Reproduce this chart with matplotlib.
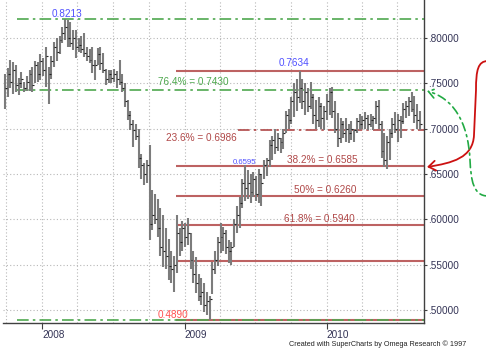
import matplotlib
matplotlib.use("Agg")
import matplotlib.pyplot as plt
import matplotlib.dates as mdates
from matplotlib.path import Path
from matplotlib.patches import FancyArrowPatch
import numpy as np
import pandas as pd

plt.rcParams['font.family'] = ['Liberation Sans', 'DejaVu Sans']

# ---------------- data (weekly NZD/USD bars) ----------------
start_date = "2007-09-28"
highs = [.760, .767, .776, .774, .770, .756, .762, .752, .758, .765,
         .768, .775, .773, .782, .778, .790, .768, .780, .796, .800,
         .802, .812, .8213, .820, .818, .809, .809, .800, .802, .805,
         .790, .788, .790, .776, .789, .790, .784, .766, .765, .765,
         .766, .764, .776, .760, .750, .732, .720, .710, .705, .700,
         .672, .662, .665, .682, .632, .628, .622, .612, .605, .590,
         .578, .565, .560, .605, .590, .598, .596, .601, .585, .565,
         .558, .540, .535, .530, .520, .515, .553, .565, .580, .596,
         .592, .588, .577, .575, .600, .615, .625, .645, .6595, .654,
         .650, .652, .648, .655, .650, .665, .668, .688, .692, .700,
         .695, .690, .700, .720, .722, .735, .750, .755, .7634, .755,
         .750, .745, .752, .738, .732, .735, .728, .725, .738, .745,
         .746, .730, .717, .712, .708, .712, .705, .708, .700, .712,
         .716, .714, .718, .715, .716, .714, .730, .732, .708, .695,
         .692, .700, .712, .718, .716, .714, .728, .730, .735, .740,
         .736, .727, .720]
lows = [.722, .735, .745, .738, .740, .737, .745, .740, .742, .741,
        .740, .750, .752, .754, .758, .746, .727, .755, .768, .775,
        .782, .795, .798, .790, .790, .787, .778, .785, .784, .779,
        .775, .772, .761, .754, .770, .765, .761, .748, .750, .750,
        .752, .745, .748, .740, .724, .710, .699, .680, .688, .657,
        .645, .638, .640, .577, .588, .595, .580, .560, .547, .545,
        .533, .530, .520, .541, .560, .565, .570, .572, .545, .530,
        .519, .510, .505, .498, .495, .489, .518, .540, .548, .563,
        .565, .562, .552, .550, .570, .585, .590, .612, .620, .622,
        .618, .625, .620, .618, .615, .645, .648, .658, .665, .672,
        .675, .673, .678, .695, .700, .705, .713, .720, .728, .722,
        .715, .718, .722, .705, .700, .702, .700, .698, .710, .715,
        .712, .695, .680, .684, .690, .685, .684, .688, .685, .695,
        .698, .700, .700, .698, .702, .698, .705, .700, .668, .658,
        .656, .665, .690, .695, .685, .690, .705, .712, .714, .718,
        .706, .700, .698]
closes = [.745, .760, .752, .765, .748, .750, .755, .745, .752, .760,
          .748, .770, .760, .775, .765, .780, .760, .775, .790, .785,
          .798, .805, .812, .800, .795, .800, .790, .792, .788, .784,
          .780, .776, .770, .770, .782, .772, .765, .755, .760, .756,
          .760, .755, .752, .745, .730, .715, .705, .698, .692, .668,
          .660, .650, .660, .595, .605, .600, .590, .570, .565, .560,
          .548, .545, .550, .585, .575, .590, .580, .585, .555, .540,
          .530, .515, .520, .505, .510, .512, .545, .555, .575, .580,
          .585, .570, .565, .570, .595, .605, .618, .640, .635, .640,
          .630, .645, .628, .650, .640, .660, .665, .682, .688, .680,
          .690, .685, .695, .715, .710, .730, .740, .735, .745, .730,
          .740, .725, .735, .715, .710, .725, .712, .720, .730, .740,
          .720, .700, .690, .705, .695, .700, .695, .700, .698, .708,
          .705, .710, .712, .705, .710, .712, .725, .705, .675, .665,
          .685, .695, .705, .700, .710, .708, .722, .725, .730, .722,
          .715, .710, .705]

green_levels = [0.8213, 0.7430, 0.4890]
brown_levels = [0.7634, 0.6585, 0.6260, 0.5940, 0.5538, 0.4890]
brown_dashdot_level = 0.6986
year_labels = ["2008", "2009", "2010"]
y_ticks = [0.50, 0.55, 0.60, 0.65, 0.70, 0.75, 0.80]

dates = pd.date_range(start_date, periods=len(highs), freq="7D")

# ---------------- figure ----------------
W, H = 486, 354
fig = plt.figure(figsize=(W / 100, H / 100), dpi=100)
ax = fig.add_axes([3 / W, 31 / H, 421 / W, 323 / H])

x0 = pd.Timestamp("2007-09-23")
x1 = pd.Timestamp("2010-09-07")
ax.set_xlim(x0, x1)
ymin, ymax = 0.48567, 0.84191
ax.set_ylim(ymin, ymax)

px_per_day = 421 / (x1 - x0).days
def px2date(px):
    return x0 + pd.Timedelta(days=(px - 3) / px_per_day)

# grid
qdates = pd.date_range("2007-10-01", "2010-07-01", freq="QS")
for d in qdates:
    ax.axvline(d, color="#b8b8b8", lw=0.8, ls=(0, (1, 2)), zorder=0)
for v in y_ticks:
    ax.axhline(v, color="#b8b8b8", lw=0.8, ls=(0, (1, 2)), zorder=0)

# levels
green = "#4fa84f"
brown = "#bd6262"
dashdot = (0, (7, 2.5, 1.5, 2.5))
gx0 = px2date(17)
bx0 = px2date(176)
for lv in brown_levels:
    ax.hlines(lv, bx0, x1, color=brown, lw=1.5, zorder=1)
ax.hlines(brown_dashdot_level, px2date(238), x1, color="#b04848", lw=1.2,
          ls=dashdot, zorder=1)
for lv in green_levels:
    ax.hlines(lv, gx0, x1, color=green, lw=1.2, ls=dashdot, zorder=1.5)

# bars
ax.vlines(dates, lows, highs, color="#7c7c7c", lw=1.5, zorder=2)
ax.hlines(closes, dates, dates + pd.Timedelta(days=5), color="#222222",
          lw=0.8, zorder=2.5)

# labels
fs = 7.2
def ytxt(pxy):
    return 0.80 - (pxy - 38) / 906.7

ax.text(px2date(67), ytxt(17), "0.8213", color="#5050ff", fontsize=fs,
        ha="center", va="baseline")
ax.text(px2date(294), ytxt(66), "0.7634", color="#5050ff", fontsize=fs,
        ha="center", va="baseline")
ax.text(px2date(158), ytxt(85.5), "76.4% = 0.7430", color=green, fontsize=fs,
        ha="left", va="baseline")
ax.text(px2date(166), ytxt(141.5), "23.6% = 0.6986", color="#b04848",
        fontsize=fs, ha="left", va="baseline")
ax.text(px2date(233), ytxt(164), "0.6595", color="#5050ff", fontsize=5.6,
        ha="left", va="baseline")
ax.text(px2date(287), ytxt(163.3), "38.2% = 0.6585", color="#b04848",
        fontsize=fs, ha="left", va="baseline")
ax.text(px2date(294), ytxt(193.3), "50% = 0.6260", color="#b04848",
        fontsize=fs, ha="left", va="baseline")
ax.text(px2date(284), ytxt(221.7), "61.8% = 0.5940", color="#b04848",
        fontsize=fs, ha="left", va="baseline")
ax.text(px2date(158), ytxt(318.3), "0.4890", color="#ff5050", fontsize=fs,
        ha="left", va="baseline")

# axes styling
for s in ["left", "top"]:
    ax.spines[s].set_visible(False)
for s in ["right", "bottom"]:
    ax.spines[s].set_color("#404040")
    ax.spines[s].set_linewidth(1.0)
ax.yaxis.tick_right()
ax.set_yticks(y_ticks)
ax.set_yticklabels([("%.5f" % v)[1:] for v in y_ticks])
ax.tick_params(axis="y", length=2, pad=1, labelsize=fs, colors="#404040",
               labelcolor="#333355")
ydates = [pd.Timestamp(y + "-01-01") for y in year_labels]
ax.set_xticks(ydates)
ax.set_xticklabels(year_labels)
ax.tick_params(axis="x", length=4, pad=1, labelsize=fs, colors="#404040",
               labelcolor="#333355")
for lab in ax.get_xticklabels():
    lab.set_horizontalalignment("left")

fig.text(466 / W, 1 - 346 / H,
         "Created with SuperCharts by Omega Research \u00a9 1997",
         fontsize=5.2, ha="right", va="baseline", color="#222222",
         family=["Liberation Sans Narrow", "Liberation Sans", "DejaVu Sans"])

# right-side arrows (overlay in pixel coordinates)
ov = fig.add_axes([0, 0, 1, 1], zorder=5)
ov.set_xlim(0, W)
ov.set_ylim(H, 0)
ov.axis("off")
ov.patch.set_alpha(0)

red_path = Path([(488, 61), (478, 61), (476, 70), (476, 90),
                 (474, 135),
                 (473, 158), (452, 163), (427, 167)],
                [Path.MOVETO, Path.CURVE4, Path.CURVE4, Path.CURVE4,
                 Path.LINETO,
                 Path.CURVE4, Path.CURVE4, Path.CURVE4])
ov.add_patch(FancyArrowPatch(path=red_path, arrowstyle="->,head_length=0.5,head_width=0.35",
                             mutation_scale=10, color="#cc1111", lw=1.3))

green_path = Path([(488, 196), (473, 196), (471, 180), (470, 160),
                   (468, 120), (452, 98), (427, 91)],
                  [Path.MOVETO, Path.CURVE4, Path.CURVE4, Path.CURVE4,
                   Path.CURVE4, Path.CURVE4, Path.CURVE4])
ov.add_patch(FancyArrowPatch(path=green_path, arrowstyle="->,head_length=0.5,head_width=0.35",
                             mutation_scale=10, color="#22aa44", lw=1.2,
                             linestyle=(0, (5, 2.5, 1.2, 2.5))))

fig.savefig("out.png", dpi=100)
